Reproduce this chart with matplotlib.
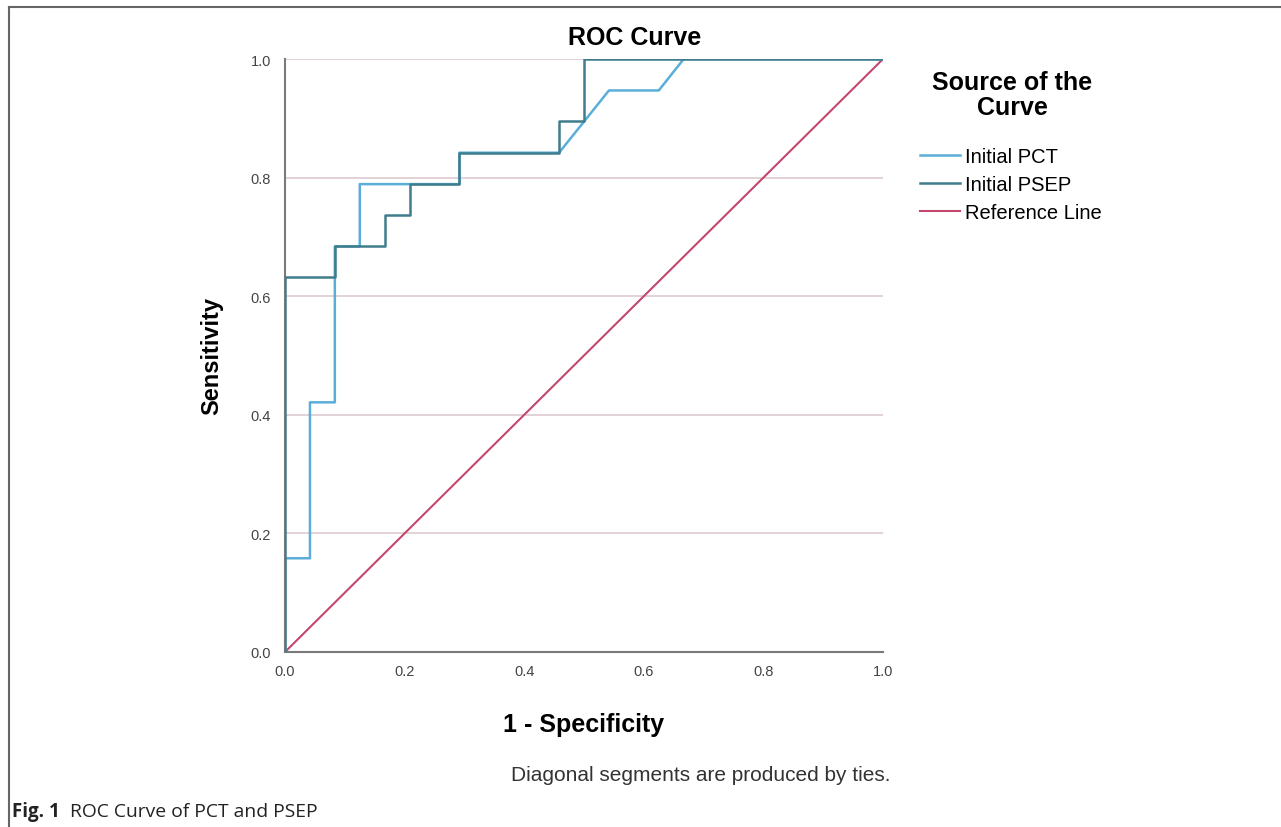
import matplotlib
matplotlib.use("Agg")
import matplotlib.pyplot as plt
from matplotlib.lines import Line2D

# ROC points (1 - specificity, sensitivity)
pct_fpr = [0.0, 0.0, 0.0417, 0.0417, 0.0833, 0.0833, 0.125, 0.125, 0.2917, 0.2917,
           0.4583, 0.5417, 0.625, 0.6667, 1.0]
pct_tpr = [0.0, 0.158, 0.158, 0.421, 0.421, 0.684, 0.684, 0.789, 0.789, 0.842,
           0.842, 0.947, 0.947, 1.0, 1.0]

psep_fpr = [0.0, 0.0, 0.0833, 0.0833, 0.1667, 0.1667, 0.2083, 0.2083, 0.2917, 0.2917,
            0.4583, 0.4583, 0.5, 0.5, 1.0]
psep_tpr = [0.0, 0.632, 0.632, 0.684, 0.684, 0.737, 0.737, 0.789, 0.789, 0.842,
            0.842, 0.895, 0.895, 1.0, 1.0]

ref_x = [0.0, 1.0]
ref_y = [0.0, 1.0]

ticks = [0.0, 0.2, 0.4, 0.6, 0.8, 1.0]
tick_labels = ["0.0", "0.2", "0.4", "0.6", "0.8", "1.0"]

plt.rcParams["font.family"] = ["Liberation Sans", "DejaVu Sans"]

fig = plt.figure(figsize=(12.81, 8.28), dpi=100)
ax = fig.add_axes([0.2225, 0.2114, 0.4668, 0.7161])

for yv in ticks[1:]:
    ax.axhline(yv, color="#dccbcf", lw=1.2, zorder=0)

ax.plot(psep_fpr, psep_tpr, color="#3f7d8c", lw=1.8, label="Initial PSEP", zorder=3)
ax.plot(pct_fpr, pct_tpr, color="#5aaed8", lw=1.8, label="Initial PCT", zorder=2)
ax.plot(ref_x, ref_y, color="#c4476c", lw=1.5, label="Reference Line", zorder=1)

ax.set_xlim(0, 1)
ax.set_ylim(0, 1)
ax.set_xticks(ticks)
ax.set_xticklabels(tick_labels)
ax.set_yticks(ticks)
ax.set_yticklabels(tick_labels)
ax.tick_params(axis="both", length=0, labelsize=10.5, colors="#444444")
ax.tick_params(axis="x", pad=9)
ax.tick_params(axis="y", pad=10)
for side in ["top", "right"]:
    ax.spines[side].set_visible(False)
for side in ["left", "bottom"]:
    ax.spines[side].set_color("#7a7a7a")
    ax.spines[side].set_linewidth(1.5)

fig.text(0.4957, 0.954, "ROC Curve", ha="center", va="center", fontsize=18,
         fontweight="bold")
ax.set_xlabel("1 - Specificity", fontsize=18, fontweight="bold", labelpad=24)
ax.set_ylabel("Sensitivity", fontsize=17, fontweight="bold", labelpad=20)

handles, labels = ax.get_legend_handles_labels()
order = [1, 0, 2]
leg = fig.legend([handles[i] for i in order], [labels[i] for i in order],
                 loc="upper left", bbox_to_anchor=(0.712, 0.831), frameon=False,
                 borderaxespad=0, fontsize=14.5, handlelength=2.0,
                 handletextpad=0.25, labelspacing=0.45)

fig.text(0.790, 0.900, "Source of the", ha="center", va="center", fontsize=18,
         fontweight="bold")
fig.text(0.790, 0.870, "Curve", ha="center", va="center", fontsize=18,
         fontweight="bold")

fig.text(0.695, 0.063, "Diagonal segments are produced by ties.", ha="right",
         va="center", fontsize=15, color="#333333")

fig.text(0.009, 0.019, "Fig. 1", fontsize=13.5, fontweight="bold",
         family=["Open Sans", "DejaVu Sans"], color="#222222", va="center")
fig.text(0.0546, 0.019, "ROC Curve of PCT and PSEP", fontsize=13.9,
         family=["Open Sans", "DejaVu Sans"], color="#222222", va="center")

# page border (top and left edges)
fig.add_artist(Line2D([0.007, 0.007], [0.0, 0.99], transform=fig.transFigure,
                      color="#666666", lw=1.5))
fig.add_artist(Line2D([0.007, 1.0], [0.99, 0.99], transform=fig.transFigure,
                      color="#666666", lw=1.5))

fig.savefig("out.png", dpi=100)
